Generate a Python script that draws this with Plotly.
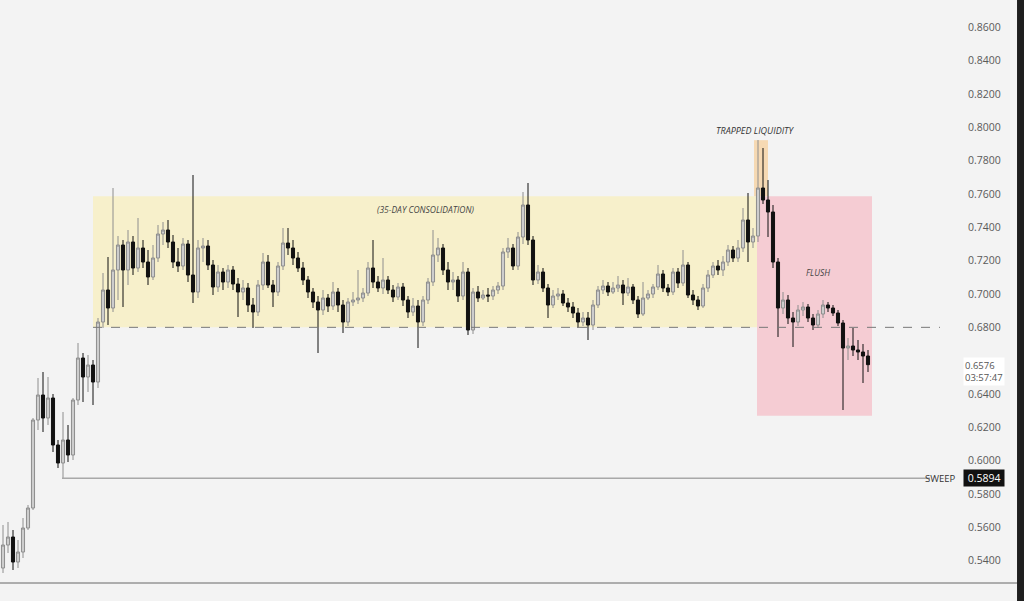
import plotly.graph_objects as go

# ---- data (price values) ----
opens = [0.5356,0.5494,0.5542,0.5392,0.5452,0.5596,0.5716,0.6244,0.6394,0.6256,
         0.6376,0.6094,0.5986,0.6124,0.6034,0.6364,0.6616,0.6502,0.6574,0.6472,
         0.6832,0.7024,0.6916,0.7144,0.7294,0.7144,0.7312,0.7156,0.7276,0.7192,
         0.7102,0.7216,0.7360,0.7384,0.7312,0.7192,0.7168,0.7300,0.7114,0.7012,
         0.7276,0.7288,0.7174,0.7042,0.7132,0.7072,0.7144,0.7060,0.7012,0.7036,
         0.6934,0.6892,0.7054,0.7192,0.7054,0.7012,0.7168,0.7306,0.7276,0.7216,
         0.7156,0.7084,0.7012,0.6952,0.6904,0.6976,0.6928,0.7012,0.6934,0.6832,
         0.6952,0.6964,0.6976,0.7006,0.7156,0.7072,0.7036,0.7084,0.7024,0.6982,
         0.7042,0.6964,0.6892,0.6928,0.6832,0.6964,0.7072,0.7234,0.7276,0.7144,
         0.7072,0.7084,0.6988,0.7132,0.6784,0.7012,0.6976,0.6994,0.6988,0.7024,
         0.7048,0.7252,0.7276,0.7168,0.7342,0.7534,0.7324,0.7084,0.7132,0.7036,
         0.6934,0.6988,0.7000,0.6946,0.6922,0.6886,0.6832,0.6856,0.6814,0.6934,
         0.7024,0.7048,0.7012,0.7036,0.7054,0.7006,0.7042,0.6964,0.6880,0.6976,
         0.7000,0.7042,0.7120,0.7036,0.7012,0.7132,0.7066,0.7174,0.6994,0.6964,
         0.6928,0.7036,0.7114,0.7168,0.7144,0.7192,0.7264,0.7216,0.7276,0.7444,
         0.7312,0.7348,0.7636,0.7564,0.7492,0.7192,0.6916,0.6964,0.6856,0.6832,
         0.6904,0.6922,0.6856,0.6814,0.6880,0.6934,0.6916,0.6886,0.6826,0.6676,
         0.6688,0.6664,0.6652,0.6628]
closes = [0.5494,0.5542,0.5392,0.5452,0.5596,0.5716,0.6244,0.6394,0.6256,0.6376,
          0.6094,0.5986,0.6124,0.6034,0.6364,0.6616,0.6502,0.6574,0.6472,0.6832,
          0.7024,0.6916,0.7144,0.7294,0.7144,0.7312,0.7156,0.7276,0.7192,0.7102,
          0.7216,0.7360,0.7384,0.7312,0.7192,0.7168,0.7300,0.7114,0.7012,0.7276,
          0.7288,0.7174,0.7042,0.7132,0.7072,0.7144,0.7060,0.7012,0.7036,0.6934,
          0.6892,0.7054,0.7192,0.7054,0.7012,0.7168,0.7306,0.7276,0.7216,0.7156,
          0.7084,0.7012,0.6952,0.6904,0.6976,0.6928,0.7012,0.6934,0.6832,0.6952,
          0.6964,0.6976,0.7006,0.7156,0.7072,0.7036,0.7084,0.7024,0.6982,0.7042,
          0.6964,0.6892,0.6928,0.6832,0.6964,0.7072,0.7234,0.7276,0.7144,0.7072,
          0.7084,0.6988,0.7132,0.6784,0.7012,0.6976,0.6994,0.6988,0.7024,0.7048,
          0.7252,0.7276,0.7168,0.7342,0.7534,0.7324,0.7084,0.7132,0.7036,0.6934,
          0.6988,0.7000,0.6946,0.6922,0.6886,0.6832,0.6856,0.6814,0.6934,0.7024,
          0.7048,0.7012,0.7036,0.7054,0.7006,0.7042,0.6964,0.6880,0.6976,0.7000,
          0.7042,0.7120,0.7036,0.7012,0.7132,0.7066,0.7174,0.6994,0.6964,0.6928,
          0.7036,0.7114,0.7168,0.7144,0.7192,0.7264,0.7216,0.7276,0.7444,0.7312,
          0.7348,0.7636,0.7564,0.7492,0.7192,0.6916,0.6964,0.6856,0.6832,0.6904,
          0.6922,0.6856,0.6814,0.6880,0.6934,0.6916,0.6886,0.6826,0.6676,0.6688,
          0.6664,0.6652,0.6628,0.6576]
highs = [0.5614,0.5632,0.5584,0.5524,0.5656,0.5734,0.6256,0.6496,0.6532,0.6502,
         0.6400,0.6124,0.6292,0.6214,0.6376,0.6706,0.6646,0.6634,0.6604,0.6856,
         0.7126,0.7222,0.7636,0.7348,0.7324,0.7384,0.7348,0.7456,0.7324,0.7264,
         0.7294,0.7414,0.7432,0.7444,0.7354,0.7276,0.7336,0.7324,0.7714,0.7324,
         0.7336,0.7324,0.7204,0.7174,0.7156,0.7174,0.7168,0.7096,0.7084,0.7066,
         0.6976,0.7084,0.7246,0.7234,0.7084,0.7192,0.7396,0.7396,0.7324,0.7252,
         0.7192,0.7108,0.7036,0.6988,0.7024,0.7000,0.7072,0.7036,0.6964,0.6976,
         0.7012,0.7144,0.7036,0.7192,0.7324,0.7108,0.7216,0.7108,0.7054,0.7066,
         0.7066,0.6988,0.6976,0.6964,0.6988,0.7096,0.7384,0.7336,0.7300,0.7192,
         0.7132,0.7108,0.7192,0.7156,0.7036,0.7048,0.7024,0.7036,0.7048,0.7072,
         0.7276,0.7336,0.7300,0.7372,0.7612,0.7666,0.7348,0.7174,0.7156,0.7060,
         0.7024,0.7036,0.7024,0.6976,0.6952,0.6916,0.6892,0.6892,0.6964,0.7048,
         0.7084,0.7072,0.7072,0.7108,0.7084,0.7096,0.7060,0.6988,0.7072,0.7024,
         0.7060,0.7174,0.7144,0.7060,0.7156,0.7156,0.7264,0.7192,0.7024,0.6988,
         0.7060,0.7144,0.7192,0.7204,0.7228,0.7294,0.7288,0.7324,0.7516,0.7606,
         0.7396,0.7924,0.7876,0.7684,0.7534,0.7216,0.7012,0.6994,0.6892,0.6934,
         0.6952,0.6940,0.6880,0.6904,0.6964,0.6952,0.6934,0.6904,0.6844,0.6736,
         0.6796,0.6724,0.6700,0.6664]
lows = [0.5326,0.5446,0.5344,0.5356,0.5416,0.5584,0.5704,0.6184,0.6172,0.6214,
        0.6052,0.5956,0.5894,0.5992,0.6004,0.6334,0.6352,0.6412,0.6334,0.6436,
        0.6796,0.6814,0.6892,0.6964,0.6922,0.7054,0.7114,0.7132,0.7156,0.7054,
        0.7084,0.7192,0.7294,0.7276,0.7156,0.7132,0.7144,0.7072,0.6946,0.6976,
        0.7192,0.7144,0.6994,0.7012,0.7024,0.7036,0.7024,0.6862,0.6964,0.6892,
        0.6796,0.6868,0.7024,0.7036,0.6922,0.6988,0.7144,0.7234,0.7174,0.7132,
        0.7054,0.6976,0.6916,0.6646,0.6874,0.6892,0.6904,0.6892,0.6766,0.6808,
        0.6928,0.6940,0.6952,0.6988,0.7036,0.7012,0.7000,0.7000,0.6952,0.6964,
        0.6928,0.6856,0.6868,0.6676,0.6808,0.6940,0.7048,0.7192,0.7114,0.7024,
        0.7024,0.6952,0.6964,0.6754,0.6760,0.6952,0.6964,0.6952,0.6964,0.7000,
        0.7024,0.7216,0.7144,0.7144,0.7300,0.7294,0.7054,0.7060,0.7012,0.6856,
        0.6916,0.6964,0.6928,0.6892,0.6856,0.6796,0.6808,0.6724,0.6784,0.6916,
        0.7000,0.6988,0.7000,0.7012,0.6934,0.6988,0.6940,0.6856,0.6868,0.6964,
        0.6976,0.7024,0.7012,0.6988,0.6994,0.7036,0.7048,0.6976,0.6934,0.6904,
        0.6916,0.7012,0.7096,0.7114,0.7108,0.7168,0.7192,0.7192,0.7252,0.7192,
        0.7276,0.7312,0.7540,0.7342,0.7156,0.6742,0.6880,0.6820,0.6682,0.6808,
        0.6868,0.6832,0.6784,0.6796,0.6856,0.6892,0.6868,0.6808,0.6304,0.6604,
        0.6628,0.6604,0.6466,0.6532]
candle_index = list(range(len(closes)))

# levels and zones
consolidation_low = 0.6800
consolidation_high = 0.7587
flush_low = 0.6269
trap_high = 0.7923
sweep_level = 0.5894
last_price = 0.6576
countdown = "03:57:47"
consolidation_span = (18, 150.8)
flush_span = (150.8, 173.8)
trap_span = (150.2, 153.0)
level_line_end = (187.4, 185.4)
sweep_start = 11.8
# 0.6600 is hidden behind the live-price tag in the reference
tick_values = [0.54, 0.56, 0.58, 0.60, 0.62, 0.64, 0.68, 0.70, 0.72, 0.74,
               0.76, 0.78, 0.80, 0.82, 0.84, 0.86]
tick_labels = ["%.4f" % v for v in tick_values]

fig = go.Figure()
fig.add_trace(go.Candlestick(
    x=candle_index, open=opens, high=highs, low=lows, close=closes,
    increasing=dict(fillcolor="#cdcdcd", line=dict(color="#8e8e8e", width=1)),
    decreasing=dict(fillcolor="#111111", line=dict(color="#111111", width=1)),
    whiskerwidth=0, showlegend=False, hoverinfo="skip"))

shapes = [
    dict(type="rect", xref="x", yref="y", x0=consolidation_span[0], x1=consolidation_span[1],
         y0=consolidation_low, y1=consolidation_high, fillcolor="#f7f0cb", line_width=0, layer="below"),
    dict(type="rect", xref="x", yref="y", x0=flush_span[0], x1=flush_span[1],
         y0=flush_low, y1=consolidation_high, fillcolor="#f5ccd3", line_width=0, layer="below"),
    dict(type="rect", xref="x", yref="y", x0=trap_span[0], x1=trap_span[1],
         y0=consolidation_high, y1=trap_high, fillcolor="#f6d9b3", line_width=0, layer="below"),
    dict(type="line", xref="x", yref="y", x0=consolidation_span[0], x1=level_line_end[0],
         y0=consolidation_low, y1=consolidation_low, line=dict(color="#777777", width=1, dash="dash")),
    dict(type="line", xref="x", yref="y", x0=sweep_start, x1=level_line_end[1],
         y0=sweep_level, y1=sweep_level, line=dict(color="#a8a8a8", width=1.5)),
    dict(type="line", xref="paper", yref="paper", x0=0, x1=1.06, y0=0, y1=0,
         line=dict(color="#666666", width=1)),
    dict(type="rect", xref="paper", yref="paper", x0=1.0594, x1=1.08, y0=-0.05, y1=1.05,
         fillcolor="#1e1e1e", line_width=0),
]

annotations = [
    dict(x=150.4, y=0.7984, xref="x", yref="y", text="<i>TRAPPED LIQUIDITY</i>", showarrow=False,
         font=dict(size=9, color="#333333", family="Open Sans")),
    dict(x=84.4, y=0.7510, xref="x", yref="y", text="<i>(35-DAY CONSOLIDATION)</i>", showarrow=False,
         font=dict(size=8.5, color="#444444", family="Open Sans")),
    dict(x=163, y=0.7132, xref="x", yref="y", text="<i>FLUSH</i>", showarrow=False,
         font=dict(size=8.5, color="#444444", family="Open Sans")),
    dict(x=0.998, y=sweep_level, xref="paper", yref="y", text="SWEEP", showarrow=False,
         xanchor="right", font=dict(size=9.5, color="#333333", family="Open Sans")),
    dict(x=1.003, y=sweep_level, xref="paper", yref="y", text=" %.4f " % sweep_level, showarrow=False,
         xanchor="left", bgcolor="#111111", borderpad=1,
         font=dict(size=10.5, color="#ffffff", family="Open Sans")),
    dict(x=1.003, y=last_price, xref="paper", yref="y", yanchor="top", yshift=8,
         text="%.4f<br>%s" % (last_price, countdown), showarrow=False,
         xanchor="left", bgcolor="#ffffff", borderpad=1, align="left",
         font=dict(size=9.5, color="#555555", family="Open Sans")),
]

fig.update_layout(
    width=1024, height=601,
    margin=dict(l=0, r=64, t=0, b=18),
    paper_bgcolor="#f3f3f3", plot_bgcolor="#f3f3f3",
    boxgap=0.12,
    shapes=shapes, annotations=annotations,
    xaxis=dict(range=[-0.6, 191.4], showgrid=False, zeroline=False, showticklabels=False,
               rangeslider=dict(visible=False), fixedrange=True),
    yaxis=dict(range=[0.5266, 0.8764], side="right", showgrid=False, zeroline=False,
               tickvals=tick_values, ticktext=tick_labels, ticks="", ticklabelstandoff=7,
               tickfont=dict(size=10.5, color="#5a5a5a", family="Open Sans")),
)

fig.write_html("out.html", config={"displayModeBar": False},
               post_script="document.body.style.margin='0';document.body.style.background='#f3f3f3';")
